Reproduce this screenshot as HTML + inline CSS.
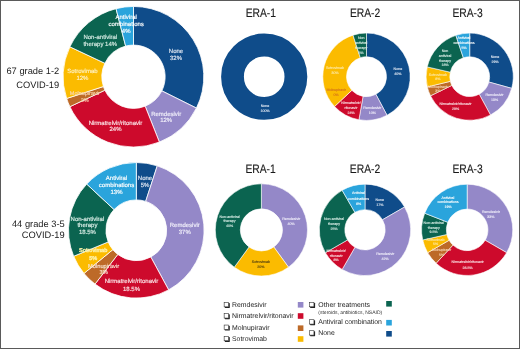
<!DOCTYPE html>
<html><head><meta charset="utf-8"><style>
html,body{margin:0;padding:0;background:#fff;}
body{width:520px;height:349px;overflow:hidden;position:relative;}
svg{position:absolute;left:0;top:0;display:block;filter:blur(0.3px);font-family:"Liberation Sans", sans-serif;text-rendering:geometricPrecision;}
.frame{position:absolute;left:0;top:0;width:518px;height:347px;border:1px solid #5a5a5a;}
</style></head><body>
<svg width="520" height="349" viewBox="0 0 520 349">
<rect width="520" height="349" fill="#fff"/>
<path d="M133.50,6.45A70.3,70.3 0 0 1 196.41,108.12L161.82,90.87A31.65,31.65 0 0 0 133.50,45.10Z" fill="#0f4c8a" stroke="#fff" stroke-width="0.8" stroke-linejoin="miter"/>
<path d="M196.41,108.12A70.3,70.3 0 0 1 159.38,142.11L145.15,106.18A31.65,31.65 0 0 0 161.82,90.87Z" fill="#9488c8" stroke="#fff" stroke-width="0.8" stroke-linejoin="miter"/>
<path d="M159.38,142.11A70.3,70.3 0 0 1 69.89,106.68L104.86,90.23A31.65,31.65 0 0 0 145.15,106.18Z" fill="#cd0a2c" stroke="#fff" stroke-width="0.8" stroke-linejoin="miter"/>
<path d="M69.89,106.68A70.3,70.3 0 0 1 66.64,98.47L103.40,86.53A31.65,31.65 0 0 0 104.86,90.23Z" fill="#bd6a28" stroke="#fff" stroke-width="0.8" stroke-linejoin="miter"/>
<path d="M66.64,98.47A70.3,70.3 0 0 1 69.89,46.82L104.86,63.27A31.65,31.65 0 0 0 103.40,86.53Z" fill="#fbbb00" stroke="#fff" stroke-width="0.8" stroke-linejoin="miter"/>
<path d="M69.89,46.82A70.3,70.3 0 0 1 116.02,8.66L125.63,46.09A31.65,31.65 0 0 0 104.86,63.27Z" fill="#0b6450" stroke="#fff" stroke-width="0.8" stroke-linejoin="miter"/>
<path d="M116.02,8.66A70.3,70.3 0 0 1 133.50,6.45L133.50,45.10A31.65,31.65 0 0 0 125.63,46.09Z" fill="#2aa4dc" stroke="#fff" stroke-width="0.8" stroke-linejoin="miter"/>
<text x="176" y="53.00" font-size="6.0" fill="#dfe6f2" stroke="#dfe6f2" stroke-width="0.16" text-anchor="middle" font-weight="normal">None</text>
<text x="176" y="59.60" font-size="6.0" fill="#dfe6f2" stroke="#dfe6f2" stroke-width="0.16" text-anchor="middle" font-weight="normal">32%</text>
<text x="166.2" y="115.50" font-size="6.0" fill="#f0eefa" stroke="#f0eefa" stroke-width="0.16" text-anchor="middle" font-weight="normal">Remdesivir</text>
<text x="166.2" y="122.10" font-size="6.0" fill="#f0eefa" stroke="#f0eefa" stroke-width="0.16" text-anchor="middle" font-weight="normal">12%</text>
<text x="115.5" y="124.60" font-size="6.0" fill="#fbe3e6" stroke="#fbe3e6" stroke-width="0.16" text-anchor="middle" font-weight="normal">Nirmatrelvir/ritonavir</text>
<text x="115.5" y="131.20" font-size="6.0" fill="#fbe3e6" stroke="#fbe3e6" stroke-width="0.16" text-anchor="middle" font-weight="normal">24%</text>
<text x="84.8" y="94.90" font-size="5.5" fill="#f9d6ae" stroke="#f9d6ae" stroke-width="0.16" text-anchor="middle" font-weight="normal">Molnupiravir</text>
<text x="84.8" y="101.80" font-size="5.5" fill="#f9d6ae" stroke="#f9d6ae" stroke-width="0.16" text-anchor="middle" font-weight="normal">2%</text>
<text x="82.4" y="73.00" font-size="6.0" fill="#fff0c0" stroke="#fff0c0" stroke-width="0.16" text-anchor="middle" font-weight="normal">Sotrovimab</text>
<text x="82.4" y="79.60" font-size="6.0" fill="#fff0c0" stroke="#fff0c0" stroke-width="0.16" text-anchor="middle" font-weight="normal">12%</text>
<text x="100.3" y="39.30" font-size="6.0" fill="#d4ebe2" stroke="#d4ebe2" stroke-width="0.16" text-anchor="middle" font-weight="normal">Non-antiviral</text>
<text x="100.3" y="45.70" font-size="6.0" fill="#d4ebe2" stroke="#d4ebe2" stroke-width="0.16" text-anchor="middle" font-weight="normal">therapy 14%</text>
<text x="126.2" y="18.80" font-size="6.0" fill="#ffffff" stroke="#ffffff" stroke-width="0.16" text-anchor="middle" font-weight="normal">Antiviral</text>
<text x="126.2" y="26.00" font-size="6.0" fill="#ffffff" stroke="#ffffff" stroke-width="0.16" text-anchor="middle" font-weight="normal">combinations</text>
<text x="126.2" y="33.20" font-size="6.0" fill="#ffffff" stroke="#ffffff" stroke-width="0.16" text-anchor="middle" font-weight="normal">4%</text>
<path d="M136.30,162.50A67.8,67.8 0 0 1 157.25,165.82L145.69,201.39A30.4,30.4 0 0 0 136.30,199.90Z" fill="#0f4c8a" stroke="#fff" stroke-width="0.8" stroke-linejoin="miter"/>
<path d="M157.25,165.82A67.8,67.8 0 0 1 168.65,289.88L150.81,257.02A30.4,30.4 0 0 0 145.69,201.39Z" fill="#9488c8" stroke="#fff" stroke-width="0.8" stroke-linejoin="miter"/>
<path d="M168.65,289.88A67.8,67.8 0 0 1 95.03,284.09L117.79,254.42A30.4,30.4 0 0 0 150.81,257.02Z" fill="#cd0a2c" stroke="#fff" stroke-width="0.8" stroke-linejoin="miter"/>
<path d="M95.03,284.09A67.8,67.8 0 0 1 83.98,273.43L112.84,249.64A30.4,30.4 0 0 0 117.79,254.42Z" fill="#bd6a28" stroke="#fff" stroke-width="0.8" stroke-linejoin="miter"/>
<path d="M83.98,273.43A67.8,67.8 0 0 1 73.66,256.25L108.21,241.93A30.4,30.4 0 0 0 112.84,249.64Z" fill="#fbbb00" stroke="#fff" stroke-width="0.8" stroke-linejoin="miter"/>
<path d="M73.66,256.25A67.8,67.8 0 0 1 86.71,184.06L114.07,209.57A30.4,30.4 0 0 0 108.21,241.93Z" fill="#0b6450" stroke="#fff" stroke-width="0.8" stroke-linejoin="miter"/>
<path d="M86.71,184.06A67.8,67.8 0 0 1 136.30,162.50L136.30,199.90A30.4,30.4 0 0 0 114.07,209.57Z" fill="#2aa4dc" stroke="#fff" stroke-width="0.8" stroke-linejoin="miter"/>
<text x="116.5" y="180.00" font-size="6.0" fill="#ffffff" stroke="#ffffff" stroke-width="0.16" text-anchor="middle" font-weight="normal">Antiviral</text>
<text x="116.5" y="186.75" font-size="6.0" fill="#ffffff" stroke="#ffffff" stroke-width="0.16" text-anchor="middle" font-weight="normal">combinations</text>
<text x="116.5" y="193.50" font-size="6.0" fill="#ffffff" stroke="#ffffff" stroke-width="0.16" text-anchor="middle" font-weight="normal">13%</text>
<text x="145" y="179.50" font-size="6.0" fill="#dfe6f2" stroke="#dfe6f2" stroke-width="0.16" text-anchor="middle" font-weight="normal">None</text>
<text x="145" y="186.50" font-size="6.0" fill="#dfe6f2" stroke="#dfe6f2" stroke-width="0.16" text-anchor="middle" font-weight="normal">5%</text>
<text x="184.8" y="227.40" font-size="6.0" fill="#f0eefa" stroke="#f0eefa" stroke-width="0.16" text-anchor="middle" font-weight="normal">Remdesivir</text>
<text x="184.8" y="234.20" font-size="6.0" fill="#f0eefa" stroke="#f0eefa" stroke-width="0.16" text-anchor="middle" font-weight="normal">37%</text>
<text x="131.5" y="282.70" font-size="6.0" fill="#fbe3e6" stroke="#fbe3e6" stroke-width="0.16" text-anchor="middle" font-weight="normal">Nirmatrelvir/ritonavir</text>
<text x="131.5" y="291.00" font-size="6.0" fill="#fbe3e6" stroke="#fbe3e6" stroke-width="0.16" text-anchor="middle" font-weight="normal">18.5%</text>
<text x="87.4" y="220.50" font-size="6.0" fill="#dcefe8" stroke="#dcefe8" stroke-width="0.16" text-anchor="middle" font-weight="normal">Non-antiviral</text>
<text x="87.4" y="227.25" font-size="6.0" fill="#dcefe8" stroke="#dcefe8" stroke-width="0.16" text-anchor="middle" font-weight="normal">therapy</text>
<text x="87.4" y="234.00" font-size="6.0" fill="#dcefe8" stroke="#dcefe8" stroke-width="0.16" text-anchor="middle" font-weight="normal">18.5%</text>
<text x="93.2" y="252.00" font-size="5.6" fill="#fdf1a8" stroke="#fdf1a8" stroke-width="0.4" text-anchor="middle" font-weight="normal">Sotrovimab</text>
<text x="93.2" y="260.20" font-size="5.6" fill="#fdf1a8" stroke="#fdf1a8" stroke-width="0.4" text-anchor="middle" font-weight="normal">5%</text>
<text x="103.6" y="267.50" font-size="5.7" fill="#f8e2cf" stroke="#f8e2cf" stroke-width="0.16" text-anchor="middle" font-weight="normal">Molnupiravir</text>
<text x="103.6" y="274.40" font-size="5.7" fill="#f8e2cf" stroke="#f8e2cf" stroke-width="0.16" text-anchor="middle" font-weight="normal">3%</text>
<circle cx="264.2" cy="76.7" r="31.70" fill="none" stroke="#0f4c8a" stroke-width="22.80"/>
<text x="265" y="106.80" font-size="3.6" fill="#e6ecf5" stroke="#e6ecf5" stroke-width="0.1" text-anchor="middle" font-weight="normal">None</text>
<text x="265" y="111.60" font-size="3.6" fill="#e6ecf5" stroke="#e6ecf5" stroke-width="0.1" text-anchor="middle" font-weight="normal">100%</text>
<path d="M366.50,33.00A43.7,43.7 0 0 1 387.02,115.28L375.89,94.36A20.0,20.0 0 0 0 366.50,56.70Z" fill="#0f4c8a" stroke="#fff" stroke-width="0.6" stroke-linejoin="miter"/>
<path d="M387.02,115.28A43.7,43.7 0 0 1 358.91,119.74L363.03,96.40A20.0,20.0 0 0 0 375.89,94.36Z" fill="#9488c8" stroke="#fff" stroke-width="0.6" stroke-linejoin="miter"/>
<path d="M358.91,119.74A43.7,43.7 0 0 1 334.54,106.50L351.87,90.34A20.0,20.0 0 0 0 363.03,96.40Z" fill="#cd0a2c" stroke="#fff" stroke-width="0.6" stroke-linejoin="miter"/>
<path d="M334.54,106.50A43.7,43.7 0 0 1 353.00,35.14L360.32,57.68A20.0,20.0 0 0 0 351.87,90.34Z" fill="#fbbb00" stroke="#fff" stroke-width="0.6" stroke-linejoin="miter"/>
<path d="M353.00,35.14A43.7,43.7 0 0 1 366.50,33.00L366.50,56.70A20.0,20.0 0 0 0 360.32,57.68Z" fill="#0b6450" stroke="#fff" stroke-width="0.6" stroke-linejoin="miter"/>
<text x="397.9" y="70.30" font-size="3.6" fill="#e6ecf5" stroke="#e6ecf5" stroke-width="0.1" text-anchor="middle" font-weight="normal">None</text>
<text x="397.9" y="75.10" font-size="3.6" fill="#e6ecf5" stroke="#e6ecf5" stroke-width="0.1" text-anchor="middle" font-weight="normal">40%</text>
<text x="372.3" y="109.30" font-size="3.6" fill="#f0eefa" stroke="#f0eefa" stroke-width="0.1" text-anchor="middle" font-weight="normal">Remdesivir</text>
<text x="372.3" y="114.10" font-size="3.6" fill="#f0eefa" stroke="#f0eefa" stroke-width="0.1" text-anchor="middle" font-weight="normal">10%</text>
<text x="351" y="104.20" font-size="3.6" fill="#fbe3e6" stroke="#fbe3e6" stroke-width="0.1" text-anchor="middle" font-weight="normal">Nirmatrelvir/</text>
<text x="351" y="109.00" font-size="3.6" fill="#fbe3e6" stroke="#fbe3e6" stroke-width="0.1" text-anchor="middle" font-weight="normal">ritonavir</text>
<text x="351" y="113.80" font-size="3.6" fill="#fbe3e6" stroke="#fbe3e6" stroke-width="0.1" text-anchor="middle" font-weight="normal">24%</text>
<text x="336.2" y="91.00" font-size="3.6" fill="#d2701c" stroke="#d2701c" stroke-width="0.1" text-anchor="middle" font-weight="normal">Molnupiravir</text>
<text x="336.2" y="96.10" font-size="3.6" fill="#d2701c" stroke="#d2701c" stroke-width="0.1" text-anchor="middle" font-weight="normal">0%</text>
<text x="335" y="69.30" font-size="3.6" fill="#fde9a6" stroke="#fde9a6" stroke-width="0.1" text-anchor="middle" font-weight="normal">Sotrovimab</text>
<text x="335" y="74.10" font-size="3.6" fill="#fde9a6" stroke="#fde9a6" stroke-width="0.1" text-anchor="middle" font-weight="normal">30%</text>
<text x="361.2" y="39.30" font-size="3.6" fill="#dcefe8" stroke="#dcefe8" stroke-width="0.1" text-anchor="middle" font-weight="normal">Non</text>
<text x="361.2" y="44.30" font-size="3.6" fill="#dcefe8" stroke="#dcefe8" stroke-width="0.1" text-anchor="middle" font-weight="normal">antiviral</text>
<text x="361.2" y="49.30" font-size="3.6" fill="#dcefe8" stroke="#dcefe8" stroke-width="0.1" text-anchor="middle" font-weight="normal">therapy</text>
<text x="361.2" y="54.30" font-size="3.6" fill="#dcefe8" stroke="#dcefe8" stroke-width="0.1" text-anchor="middle" font-weight="normal">5%</text>
<path d="M469.70,33.10A43.6,43.6 0 0 1 511.71,88.35L488.88,82.02A19.9,19.9 0 0 0 469.70,56.80Z" fill="#0f4c8a" stroke="#fff" stroke-width="0.6" stroke-linejoin="miter"/>
<path d="M511.71,88.35A43.6,43.6 0 0 1 490.50,115.02L479.20,94.19A19.9,19.9 0 0 0 488.88,82.02Z" fill="#9488c8" stroke="#fff" stroke-width="0.6" stroke-linejoin="miter"/>
<path d="M490.50,115.02A43.6,43.6 0 0 1 430.51,95.81L451.81,85.42A19.9,19.9 0 0 0 479.20,94.19Z" fill="#cd0a2c" stroke="#fff" stroke-width="0.6" stroke-linejoin="miter"/>
<path d="M430.51,95.81A43.6,43.6 0 0 1 427.30,86.88L450.35,81.35A19.9,19.9 0 0 0 451.81,85.42Z" fill="#bd6a28" stroke="#fff" stroke-width="0.6" stroke-linejoin="miter"/>
<path d="M427.30,86.88A43.6,43.6 0 0 1 427.22,66.89L450.31,72.22A19.9,19.9 0 0 0 450.35,81.35Z" fill="#fbbb00" stroke="#fff" stroke-width="0.6" stroke-linejoin="miter"/>
<path d="M427.22,66.89A43.6,43.6 0 0 1 455.87,35.35L463.39,57.83A19.9,19.9 0 0 0 450.31,72.22Z" fill="#0b6450" stroke="#fff" stroke-width="0.6" stroke-linejoin="miter"/>
<path d="M455.87,35.35A43.6,43.6 0 0 1 469.70,33.10L469.70,56.80A19.9,19.9 0 0 0 463.39,57.83Z" fill="#2aa4dc" stroke="#fff" stroke-width="0.6" stroke-linejoin="miter"/>
<text x="464" y="39.10" font-size="3.6" fill="#ffffff" stroke="#ffffff" stroke-width="0.1" text-anchor="middle" font-weight="normal">Antiviral</text>
<text x="464" y="44.10" font-size="3.6" fill="#ffffff" stroke="#ffffff" stroke-width="0.1" text-anchor="middle" font-weight="normal">combinations</text>
<text x="464" y="49.10" font-size="3.6" fill="#ffffff" stroke="#ffffff" stroke-width="0.1" text-anchor="middle" font-weight="normal">5%</text>
<text x="495" y="58.40" font-size="3.6" fill="#e6ecf5" stroke="#e6ecf5" stroke-width="0.1" text-anchor="middle" font-weight="normal">None</text>
<text x="495" y="63.20" font-size="3.6" fill="#e6ecf5" stroke="#e6ecf5" stroke-width="0.1" text-anchor="middle" font-weight="normal">29%</text>
<text x="494.5" y="96.00" font-size="3.6" fill="#f0eefa" stroke="#f0eefa" stroke-width="0.1" text-anchor="middle" font-weight="normal">Remdesivir</text>
<text x="494.5" y="101.10" font-size="3.6" fill="#f0eefa" stroke="#f0eefa" stroke-width="0.1" text-anchor="middle" font-weight="normal">13%</text>
<text x="455.5" y="104.70" font-size="3.6" fill="#fbe3e6" stroke="#fbe3e6" stroke-width="0.1" text-anchor="middle" font-weight="normal">Nirmatrelvir/ritonavir</text>
<text x="455.5" y="109.50" font-size="3.6" fill="#fbe3e6" stroke="#fbe3e6" stroke-width="0.1" text-anchor="middle" font-weight="normal">29%</text>
<text x="437.9" y="87.80" font-size="3.6" fill="#f8d8b8" stroke="#f8d8b8" stroke-width="0.1" text-anchor="middle" font-weight="normal">Molnupiravir</text>
<text x="437.9" y="91.80" font-size="3.6" fill="#f8d8b8" stroke="#f8d8b8" stroke-width="0.1" text-anchor="middle" font-weight="normal">3%</text>
<text x="437.9" y="75.60" font-size="3.6" fill="#fde9a6" stroke="#fde9a6" stroke-width="0.1" text-anchor="middle" font-weight="normal">Sotrovimab</text>
<text x="437.9" y="80.40" font-size="3.6" fill="#fde9a6" stroke="#fde9a6" stroke-width="0.1" text-anchor="middle" font-weight="normal">8%</text>
<text x="445" y="51.70" font-size="3.6" fill="#dcefe8" stroke="#dcefe8" stroke-width="0.1" text-anchor="middle" font-weight="normal">Non</text>
<text x="445" y="56.60" font-size="3.6" fill="#dcefe8" stroke="#dcefe8" stroke-width="0.1" text-anchor="middle" font-weight="normal">antiviral</text>
<text x="445" y="61.50" font-size="3.6" fill="#dcefe8" stroke="#dcefe8" stroke-width="0.1" text-anchor="middle" font-weight="normal">therapy</text>
<text x="445" y="66.40" font-size="3.6" fill="#dcefe8" stroke="#dcefe8" stroke-width="0.1" text-anchor="middle" font-weight="normal">18%</text>
<path d="M261.40,183.80A46.1,46.1 0 0 1 288.50,267.20L273.80,246.97A21.1,21.1 0 0 0 261.40,208.80Z" fill="#9488c8" stroke="#fff" stroke-width="0.6" stroke-linejoin="miter"/>
<path d="M288.50,267.20A46.1,46.1 0 0 1 234.30,267.20L249.00,246.97A21.1,21.1 0 0 0 273.80,246.97Z" fill="#fbbb00" stroke="#fff" stroke-width="0.6" stroke-linejoin="miter"/>
<path d="M234.30,267.20A46.1,46.1 0 0 1 261.40,183.80L261.40,208.80A21.1,21.1 0 0 0 249.00,246.97Z" fill="#0b6450" stroke="#fff" stroke-width="0.6" stroke-linejoin="miter"/>
<text x="229.6" y="217.50" font-size="3.6" fill="#dcefe8" stroke="#dcefe8" stroke-width="0.1" text-anchor="middle" font-weight="normal">Non-antiviral</text>
<text x="229.6" y="222.30" font-size="3.6" fill="#dcefe8" stroke="#dcefe8" stroke-width="0.1" text-anchor="middle" font-weight="normal">therapy</text>
<text x="229.6" y="227.10" font-size="3.6" fill="#dcefe8" stroke="#dcefe8" stroke-width="0.1" text-anchor="middle" font-weight="normal">40%</text>
<text x="291.2" y="220.20" font-size="3.6" fill="#f0eefa" stroke="#f0eefa" stroke-width="0.1" text-anchor="middle" font-weight="normal">Remdesivir</text>
<text x="291.2" y="225.00" font-size="3.6" fill="#f0eefa" stroke="#f0eefa" stroke-width="0.1" text-anchor="middle" font-weight="normal">40%</text>
<text x="260.9" y="262.90" font-size="3.6" fill="#4a3a10" stroke="#4a3a10" stroke-width="0.1" text-anchor="middle" font-weight="normal">Sotrovimab</text>
<text x="260.9" y="267.70" font-size="3.6" fill="#4a3a10" stroke="#4a3a10" stroke-width="0.1" text-anchor="middle" font-weight="normal">20%</text>
<path d="M365.00,184.15A45.7,45.7 0 0 1 404.58,207.00L382.49,219.75A20.2,20.2 0 0 0 365.00,209.65Z" fill="#0f4c8a" stroke="#fff" stroke-width="0.6" stroke-linejoin="miter"/>
<path d="M404.58,207.00A45.7,45.7 0 0 1 342.15,269.43L354.90,247.34A20.2,20.2 0 0 0 382.49,219.75Z" fill="#9488c8" stroke="#fff" stroke-width="0.6" stroke-linejoin="miter"/>
<path d="M342.15,269.43A45.7,45.7 0 0 1 325.42,252.70L347.51,239.95A20.2,20.2 0 0 0 354.90,247.34Z" fill="#cd0a2c" stroke="#fff" stroke-width="0.6" stroke-linejoin="miter"/>
<path d="M325.42,252.70A45.7,45.7 0 0 1 342.15,190.27L354.90,212.36A20.2,20.2 0 0 0 347.51,239.95Z" fill="#0b6450" stroke="#fff" stroke-width="0.6" stroke-linejoin="miter"/>
<path d="M342.15,190.27A45.7,45.7 0 0 1 365.00,184.15L365.00,209.65A20.2,20.2 0 0 0 354.90,212.36Z" fill="#2aa4dc" stroke="#fff" stroke-width="0.6" stroke-linejoin="miter"/>
<text x="358.5" y="194.40" font-size="3.6" fill="#ffffff" stroke="#ffffff" stroke-width="0.1" text-anchor="middle" font-weight="normal">Antiviral</text>
<text x="358.5" y="199.60" font-size="3.6" fill="#ffffff" stroke="#ffffff" stroke-width="0.1" text-anchor="middle" font-weight="normal">combinations</text>
<text x="358.5" y="204.80" font-size="3.6" fill="#ffffff" stroke="#ffffff" stroke-width="0.1" text-anchor="middle" font-weight="normal">8%</text>
<text x="379.8" y="200.70" font-size="3.6" fill="#e6ecf5" stroke="#e6ecf5" stroke-width="0.1" text-anchor="middle" font-weight="normal">None</text>
<text x="379.8" y="205.90" font-size="3.6" fill="#e6ecf5" stroke="#e6ecf5" stroke-width="0.1" text-anchor="middle" font-weight="normal">17%</text>
<text x="334.0" y="220.00" font-size="3.6" fill="#dcefe8" stroke="#dcefe8" stroke-width="0.1" text-anchor="middle" font-weight="normal">Non-antiviral</text>
<text x="334.0" y="225.10" font-size="3.6" fill="#dcefe8" stroke="#dcefe8" stroke-width="0.1" text-anchor="middle" font-weight="normal">therapy</text>
<text x="334.0" y="230.20" font-size="3.6" fill="#dcefe8" stroke="#dcefe8" stroke-width="0.1" text-anchor="middle" font-weight="normal">25%</text>
<text x="336.2" y="252.30" font-size="3.6" fill="#fbe3e6" stroke="#fbe3e6" stroke-width="0.1" text-anchor="middle" font-weight="normal">Nirmatrelvir/</text>
<text x="336.2" y="256.60" font-size="3.6" fill="#fbe3e6" stroke="#fbe3e6" stroke-width="0.1" text-anchor="middle" font-weight="normal">ritonavir</text>
<text x="336.2" y="260.90" font-size="3.6" fill="#fbe3e6" stroke="#fbe3e6" stroke-width="0.1" text-anchor="middle" font-weight="normal">8%</text>
<text x="385.2" y="255.20" font-size="3.6" fill="#f0eefa" stroke="#f0eefa" stroke-width="0.1" text-anchor="middle" font-weight="normal">Remdesivir</text>
<text x="385.2" y="260.00" font-size="3.6" fill="#f0eefa" stroke="#f0eefa" stroke-width="0.1" text-anchor="middle" font-weight="normal">42%</text>
<path d="M467.15,184.25A45.6,45.6 0 0 1 506.64,252.65L485.16,240.25A20.8,20.8 0 0 0 467.15,209.05Z" fill="#9488c8" stroke="#fff" stroke-width="0.6" stroke-linejoin="miter"/>
<path d="M506.64,252.65A45.6,45.6 0 0 1 436.11,263.25L452.99,245.09A20.8,20.8 0 0 0 485.16,240.25Z" fill="#cd0a2c" stroke="#fff" stroke-width="0.6" stroke-linejoin="miter"/>
<path d="M436.11,263.25A45.6,45.6 0 0 1 427.66,252.65L449.14,240.25A20.8,20.8 0 0 0 452.99,245.09Z" fill="#bd6a28" stroke="#fff" stroke-width="0.6" stroke-linejoin="miter"/>
<path d="M427.66,252.65A45.6,45.6 0 0 1 422.70,240.03L446.87,234.49A20.8,20.8 0 0 0 449.14,240.25Z" fill="#fbbb00" stroke="#fff" stroke-width="0.6" stroke-linejoin="miter"/>
<path d="M422.70,240.03A45.6,45.6 0 0 1 424.69,213.21L447.78,222.26A20.8,20.8 0 0 0 446.87,234.49Z" fill="#0b6450" stroke="#fff" stroke-width="0.6" stroke-linejoin="miter"/>
<path d="M424.69,213.21A45.6,45.6 0 0 1 467.15,184.25L467.15,209.05A20.8,20.8 0 0 0 447.78,222.26Z" fill="#2aa4dc" stroke="#fff" stroke-width="0.6" stroke-linejoin="miter"/>
<text x="448" y="198.80" font-size="3.6" fill="#ffffff" stroke="#ffffff" stroke-width="0.1" text-anchor="middle" font-weight="normal">Antiviral</text>
<text x="448" y="203.30" font-size="3.6" fill="#ffffff" stroke="#ffffff" stroke-width="0.1" text-anchor="middle" font-weight="normal">combinations</text>
<text x="448" y="207.80" font-size="3.6" fill="#ffffff" stroke="#ffffff" stroke-width="0.1" text-anchor="middle" font-weight="normal">19%</text>
<text x="490.9" y="212.90" font-size="3.6" fill="#f0eefa" stroke="#f0eefa" stroke-width="0.1" text-anchor="middle" font-weight="normal">Remdesivir</text>
<text x="490.9" y="218.00" font-size="3.6" fill="#f0eefa" stroke="#f0eefa" stroke-width="0.1" text-anchor="middle" font-weight="normal">33%</text>
<text x="433.7" y="224.40" font-size="3.6" fill="#dcefe8" stroke="#dcefe8" stroke-width="0.1" text-anchor="middle" font-weight="normal">Non-antiviral</text>
<text x="433.7" y="228.80" font-size="3.6" fill="#dcefe8" stroke="#dcefe8" stroke-width="0.1" text-anchor="middle" font-weight="normal">therapy</text>
<text x="433.7" y="233.20" font-size="3.6" fill="#dcefe8" stroke="#dcefe8" stroke-width="0.1" text-anchor="middle" font-weight="normal">9.5%</text>
<text x="435.5" y="240.90" font-size="3.6" fill="#fde9a6" stroke="#fde9a6" stroke-width="0.1" text-anchor="middle" font-weight="normal">Sotrovimab</text>
<text x="435.5" y="245.20" font-size="3.6" fill="#fde9a6" stroke="#fde9a6" stroke-width="0.1" text-anchor="middle" font-weight="normal">5%</text>
<text x="441.5" y="251.20" font-size="3.6" fill="#f8d8b8" stroke="#f8d8b8" stroke-width="0.1" text-anchor="middle" font-weight="normal">Molnupiravir</text>
<text x="441.5" y="255.70" font-size="3.6" fill="#f8d8b8" stroke="#f8d8b8" stroke-width="0.1" text-anchor="middle" font-weight="normal">5%</text>
<text x="467.7" y="263.20" font-size="3.6" fill="#fbe3e6" stroke="#fbe3e6" stroke-width="0.1" text-anchor="middle" font-weight="normal">Nirmatrelvir/ritonavir</text>
<text x="467.7" y="268.60" font-size="3.6" fill="#fbe3e6" stroke="#fbe3e6" stroke-width="0.1" text-anchor="middle" font-weight="normal">28.5%</text>
<text transform="translate(260.8,16.7) scale(1,1.2)" x="0" y="0" font-size="10.3" fill="#1a1a1a" stroke="#1a1a1a" stroke-width="0.12" text-anchor="middle">ERA-1</text>
<text transform="translate(365.05,16.8) scale(1,1.2)" x="0" y="0" font-size="10.3" fill="#1a1a1a" stroke="#1a1a1a" stroke-width="0.12" text-anchor="middle">ERA-2</text>
<text transform="translate(467.55,16.7) scale(1,1.2)" x="0" y="0" font-size="10.3" fill="#1a1a1a" stroke="#1a1a1a" stroke-width="0.12" text-anchor="middle">ERA-3</text>
<text transform="translate(260.6,172.5) scale(1,1.2)" x="0" y="0" font-size="10.3" fill="#1a1a1a" stroke="#1a1a1a" stroke-width="0.12" text-anchor="middle">ERA-1</text>
<text transform="translate(365,172.6) scale(1,1.2)" x="0" y="0" font-size="10.3" fill="#1a1a1a" stroke="#1a1a1a" stroke-width="0.12" text-anchor="middle">ERA-2</text>
<text transform="translate(467.55,172.5) scale(1,1.2)" x="0" y="0" font-size="10.3" fill="#1a1a1a" stroke="#1a1a1a" stroke-width="0.12" text-anchor="middle">ERA-3</text>
<text x="59.2" y="73.6" font-size="9.3" fill="#222" text-anchor="end">67 grade 1-2</text>
<text x="59.2" y="87.7" font-size="9.3" fill="#222" text-anchor="end">COVID-19</text>
<text x="64.7" y="226.5" font-size="9.3" fill="#222" text-anchor="end">44 grade 3-5</text>
<text x="64.7" y="237.7" font-size="9.3" fill="#222" text-anchor="end">COVID-19</text>
<rect x="224.80" y="303.10" width="5.0" height="4.9" rx="0.4" fill="#222"/><rect x="224.15" y="302.45" width="4.5" height="4.4" fill="#fff" stroke="#333" stroke-width="0.6"/>
<text x="232" y="306.90" font-size="6.9" fill="#222">Remdesivir</text>
<rect x="297.8" y="302.0" width="5.6" height="5.6" fill="#9488c8"/>
<rect x="224.80" y="314.30" width="5.0" height="4.9" rx="0.4" fill="#222"/><rect x="224.15" y="313.65" width="4.5" height="4.4" fill="#fff" stroke="#333" stroke-width="0.6"/>
<text x="232" y="318.10" font-size="6.9" fill="#222">Nirmatrelvir/ritonavir</text>
<rect x="297.8" y="313.2" width="5.6" height="5.6" fill="#cd0a2c"/>
<rect x="224.80" y="325.70" width="5.0" height="4.9" rx="0.4" fill="#222"/><rect x="224.15" y="325.05" width="4.5" height="4.4" fill="#fff" stroke="#333" stroke-width="0.6"/>
<text x="232" y="329.50" font-size="6.9" fill="#222">Molnupiravir</text>
<rect x="297.8" y="325.4" width="5.6" height="5.6" fill="#bd6a28"/>
<rect x="224.80" y="337.00" width="5.0" height="4.9" rx="0.4" fill="#222"/><rect x="224.15" y="336.35" width="4.5" height="4.4" fill="#fff" stroke="#333" stroke-width="0.6"/>
<text x="232" y="340.80" font-size="6.9" fill="#222">Sotrovimab</text>
<rect x="297.8" y="336.2" width="5.6" height="5.6" fill="#fbbb00"/>
<rect x="310.10" y="303.05" width="5.0" height="4.9" rx="0.4" fill="#222"/><rect x="309.45" y="302.40" width="4.5" height="4.4" fill="#fff" stroke="#333" stroke-width="0.6"/>
<text x="318.3" y="306.90" font-size="6.9" fill="#222">Other treatments</text>
<rect x="386.2" y="301.0" width="5.6" height="5.6" fill="#0b6450"/>
<rect x="310.10" y="320.35" width="5.0" height="4.9" rx="0.4" fill="#222"/><rect x="309.45" y="319.70" width="4.5" height="4.4" fill="#fff" stroke="#333" stroke-width="0.6"/>
<text x="318.3" y="324.20" font-size="6.9" fill="#222">Antiviral combination</text>
<rect x="386.2" y="319.9" width="5.6" height="5.6" fill="#2aa4dc"/>
<rect x="310.10" y="331.35" width="5.0" height="4.9" rx="0.4" fill="#222"/><rect x="309.45" y="330.70" width="4.5" height="4.4" fill="#fff" stroke="#333" stroke-width="0.6"/>
<text x="318.3" y="335.20" font-size="6.9" fill="#222">None</text>
<rect x="386.2" y="331.0" width="5.6" height="5.6" fill="#0f4c8a"/>
<text x="318.3" y="313.8" font-size="5.0" fill="#333">(steroids, antibiotics, NSAID)</text>
</svg>
<div class="frame"></div>
</body></html>
